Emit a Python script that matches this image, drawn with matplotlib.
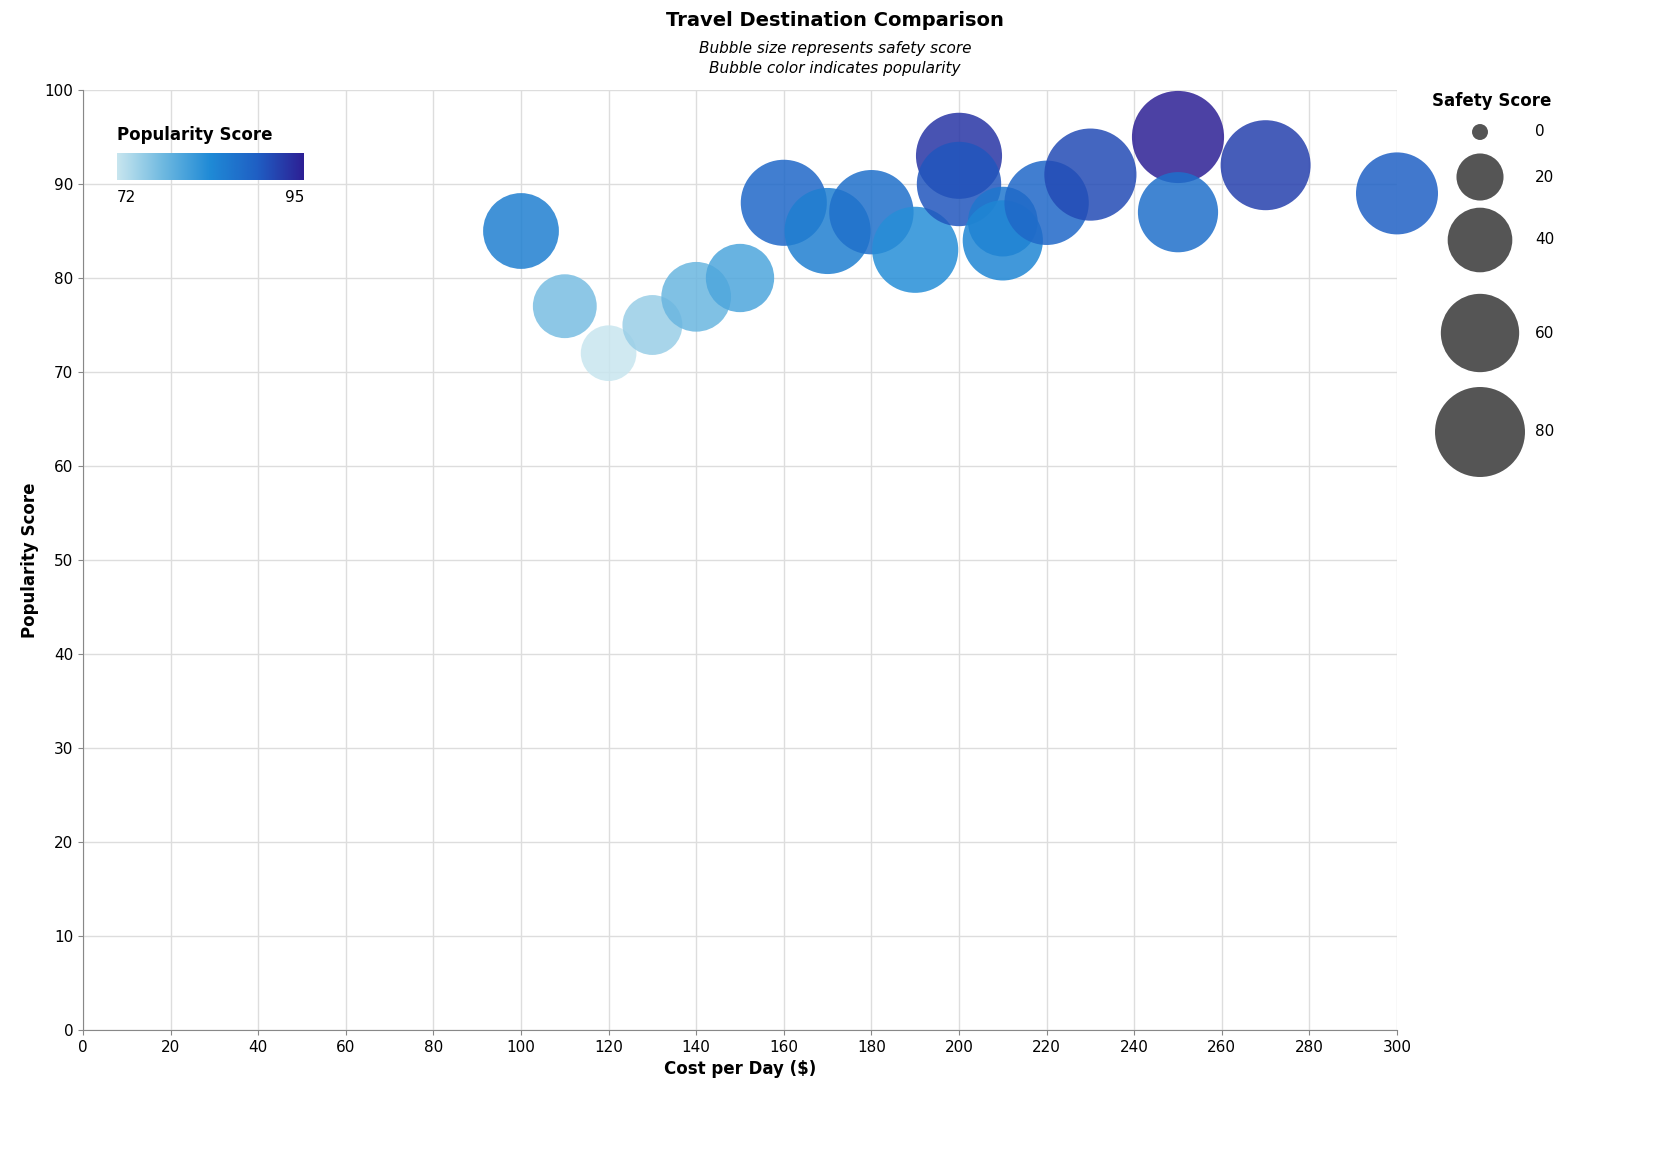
import numpy as np
import matplotlib.pyplot as plt
from matplotlib.colors import LinearSegmentedColormap, Normalize

# Data
cost = [100, 110, 120, 130, 140, 150, 160, 170, 180, 190, 200, 200, 210, 210, 220, 230, 250, 250, 270, 300]
popularity = [85, 77, 72, 75, 78, 80, 88, 85, 87, 83, 93, 90, 86, 84, 88, 91, 95, 87, 92, 89]
safety = [56, 39, 29, 34, 47, 45, 73, 73, 70, 73, 73, 70, 47, 63, 70, 84, 84, 63, 80, 66]
legend_vals = [0, 20, 40, 60, 80]

W, H, DPI = 1670, 1170, 100
px2pt = 72 / DPI

def size_of(v):
    area_px = 200 + 77 * np.asarray(v, dtype=float)
    return 4 / np.pi * area_px * px2pt ** 2

cmap = LinearSegmentedColormap.from_list("pop", ["#c8e6ef", "#6db8e0", "#1f8ad6", "#1f5fc4", "#2d1f94"])
norm = Normalize(72, 95)

fig = plt.figure(figsize=(W / DPI, H / DPI), dpi=DPI)
ax = fig.add_axes([83 / W, 1 - 1030 / H, (1397 - 83) / W, (1030 - 90) / H])

ax.scatter(cost, popularity, s=size_of(safety), c=popularity, cmap=cmap, norm=norm,
           alpha=0.85, edgecolors="none", zorder=3, clip_on=False)

ax.set_xlim(0, 300)
ax.set_ylim(0, 100)
ax.set_xticks(range(0, 301, 20))
ax.set_yticks(range(0, 101, 10))
ax.grid(color="#dddddd", linewidth=1, zorder=0)
ax.set_axisbelow(True)
for s in ["top", "right"]:
    ax.spines[s].set_visible(False)
ax.spines["left"].set_color("#888888")
ax.spines["bottom"].set_color("#888888")
ax.tick_params(colors="#888888", labelcolor="black", labelsize=11)
ax.set_xlabel("Cost per Day ($)", fontsize=12, fontweight="bold")
ax.set_ylabel("Popularity Score", fontsize=12, fontweight="bold")

fig.text(0.5, 1 - 20 / H, "Travel Destination Comparison", ha="center", va="center",
         fontsize=14, fontweight="bold")
fig.text(0.5, 1 - 48 / H, "Bubble size represents safety score", ha="center", va="center",
         fontsize=11, style="italic")
fig.text(0.5, 1 - 69 / H, "Bubble color indicates popularity", ha="center", va="center",
         fontsize=11, style="italic")

# colour legend inside plot
fig.text(117 / W, 1 - 135 / H, "Popularity Score", fontsize=12, fontweight="bold", va="center")
cax = fig.add_axes([117 / W, 1 - 180 / H, (304 - 117) / W, 27 / H])
grad = np.linspace(0, 1, 256)[None, :]
cax.imshow(grad, aspect="auto", cmap=cmap)
cax.set_xticks([])
cax.set_yticks([])
for s in cax.spines.values():
    s.set_visible(False)
fig.text(117 / W, 1 - 197 / H, "72", fontsize=11, va="center")
fig.text(304 / W, 1 - 197 / H, "95", fontsize=11, va="center", ha="right")

# size legend
fig.text(1432 / W, 1 - 101 / H, "Safety Score", fontsize=12, fontweight="bold", va="center")
lax = fig.add_axes([1420 / W, 1 - 500 / H, 130 / W, 380 / H])
lax.set_xlim(1420, 1550)
lax.set_ylim(500, 120)
lax.axis("off")
ys = [132, 177, 240, 333, 432]
lax.scatter([1480] * 5, ys, s=size_of(legend_vals), color="#555555", edgecolors="none")
for y, v in zip(ys, legend_vals):
    lax.text(1535, y, str(v), fontsize=11, va="center")

fig.savefig("out.png", dpi=DPI)
